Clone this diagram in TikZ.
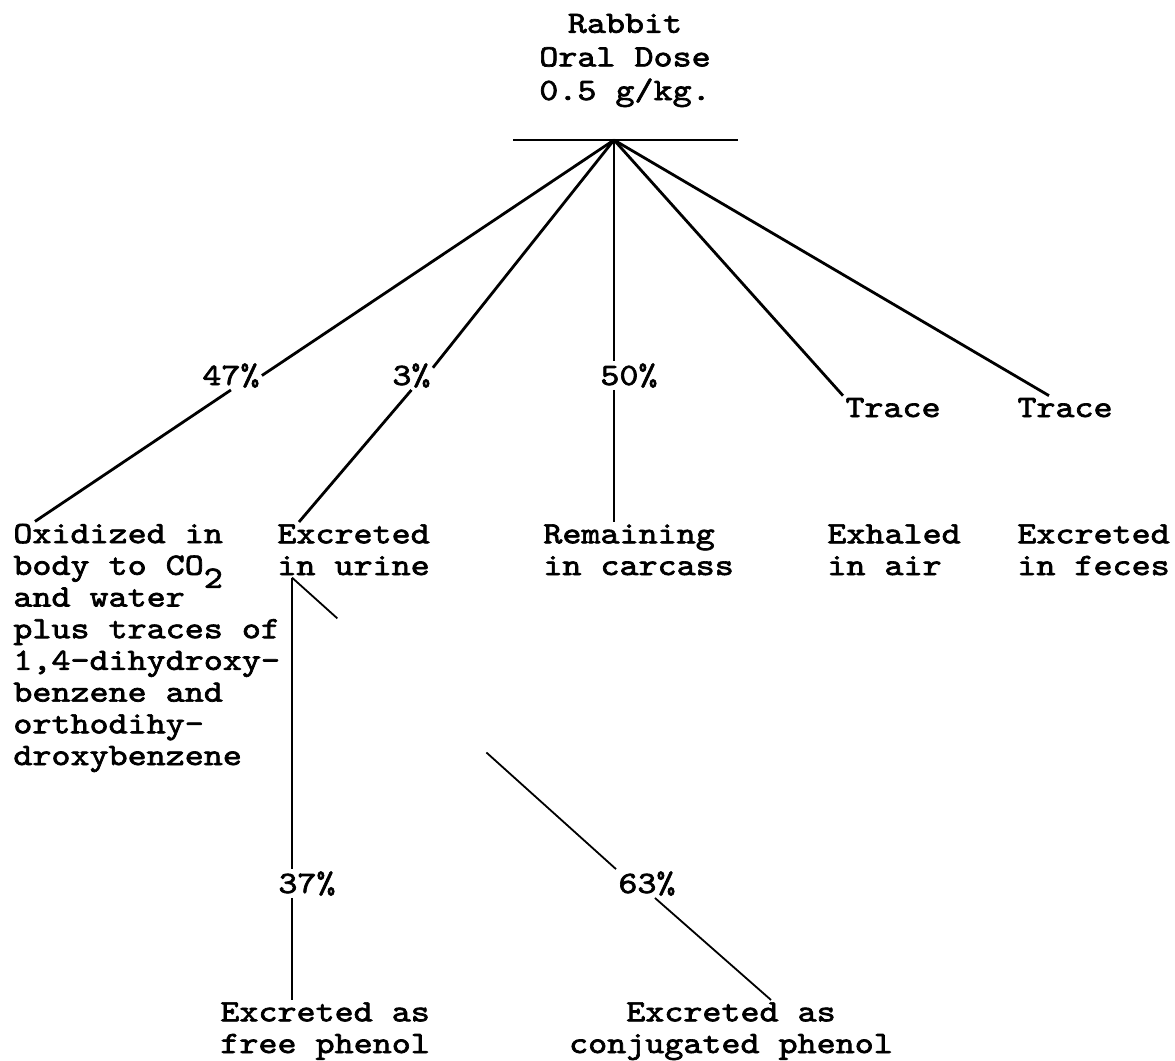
\documentclass[tikz,border=0pt]{standalone}
\usepackage{fontspec}
\setmonofont[FakeStretch=1.17,RawFeature={embolden=2.2}]{lmmono10-regular.otf}
\usetikzlibrary{calc}
\tikzset{ txt/.style={inner sep=1pt,align=left,anchor=base west,font=\fontsize{15.5}{15.85}\selectfont\ttfamily},
  pct/.style={txt},
  link/.style={line width=1.4pt},
  thinlink/.style={line width=0.9pt} }
\newcommand{\lowsub}[1]{\smash{\raisebox{-6.5pt}{#1}}}

\begin{document}
\begin{tikzpicture}[x=0.5pt,y=-0.5pt]
   \useasboundingbox (0,0) rectangle (1175,1061);
   % multi-line nodes sit on the baseline of their last line
   \node[txt,align=center,anchor=base,font=\fontsize{15.5}{16.8}\selectfont\ttfamily] (dose) at (625,100) {Rabbit\\Oral Dose\\0.5 g/kg.};
   \coordinate (hub) at (614,140);
   \coordinate (barL) at (513,140);
   \coordinate (barR) at (738,140);
   \draw[line width=1.1pt] (barL) -- (barR);
   % first split
   \node[pct] (p47) at (200,385) {47\%};
   \node[pct] (p3) at (390,385) {3\%};
   \node[pct] (p50) at (598,385) {50\%};
   \node[pct] (tr1) at (843,417) {Trace};
   \node[pct] (tr2) at (1015,417) {Trace};
   \node[txt] (ox) at (11,765) {Oxidized in\\body to CO\lowsub{2}\\and water\\plus traces of\\1,4-dihydroxy-\\benzene and\\orthodihy-\\droxybenzene};
   \node[txt] (ur) at (275,575) {Excreted\\in urine};
   \node[txt] (rc) at (541,575) {Remaining\\in carcass};
   \node[txt] (ex) at (825,575) {Exhaled\\in air};
   \node[txt] (fe) at (1015,575) {Excreted\\in feces};
   % urine split
   \node[pct] (p37) at (276,893) {37\%};
   \node[pct] (p63) at (616,893) {63\%};
   \node[txt] (fp) at (218,1053) {Excreted as\\free phenol};
   \node[txt,align=center,anchor=base] (cp) at (731,1053) {Excreted as\\conjugated phenol};
   \draw[link] (hub) -- (p47.east);
   \draw[link] (p47.south) -- ([xshift=12pt]ox.north west);
   \draw[link] (hub) -- (p3.20);
   \draw[link] (p3.south) -- ([xshift=12pt]ur.north west);
   \draw[link] (hub) -- (hub |- p50.north);
   \draw[link] (hub |- p50.south) -- (hub |- rc.north);
   \draw[link] (hub) -- (tr1.north west);
   \draw[link] (hub) -- ([xshift=17pt]tr2.north west);
   \coordinate (urfoot) at ([xshift=8.5pt]ur.south west);
   \draw[thinlink] (urfoot) -- (urfoot |- p37.north);
   \draw[thinlink] (urfoot |- p37.south) -- (urfoot |- fp.north);
   \draw[thinlink] (urfoot) -- ($(urfoot)!0.14!(p63.north west)$);
   \draw[thinlink] ($(urfoot)!0.6!(p63.north west)$) -- (p63.north west);
   \draw[thinlink] ([xshift=4pt]p63.south) -- ([xshift=20pt]cp.north);
\end{tikzpicture}
\end{document}
